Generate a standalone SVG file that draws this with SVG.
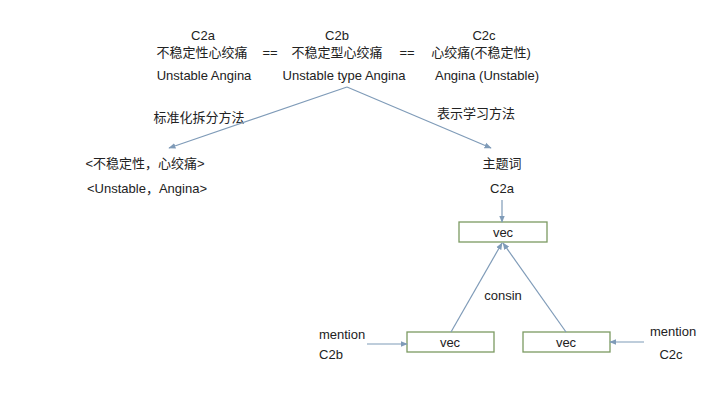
<svg xmlns="http://www.w3.org/2000/svg" width="720" height="405" viewBox="0 0 720 405">
<defs>
<style>
text{font-family:"Liberation Sans","Noto Sans CJK SC",sans-serif;font-size:13px;fill:#222;text-anchor:middle}
.box{fill:#fff;stroke:#7c9a62;stroke-width:1.3}
.ln{stroke:#7f9bb8;stroke-width:1.2;fill:none}
</style>
<marker id="ah" viewBox="0 0 10 10" refX="9" refY="5" markerWidth="6" markerHeight="6" orient="auto-start-reverse">
<path d="M0,1 L10,5 L0,9 Z" fill="#7f9bb8"/>
</marker>
</defs>
<rect width="720" height="405" fill="#fff"/>
<g id="terms">
<text x="203" y="40">C2a</text>
<text x="337" y="40">C2b</text>
<text x="484" y="40">C2c</text>
<text x="202" y="57">不稳定性心绞痛</text>
<text x="270" y="57">==</text>
<text x="337" y="57">不稳定型心绞痛</text>
<text x="407" y="57">==</text>
<text x="481" y="57">心绞痛(不稳定性)</text>
<text x="204" y="80">Unstable Angina</text>
<text x="344" y="80">Unstable type Angina</text>
<text x="487" y="80">Angina (Unstable)</text>
</g>
<g id="method-labels">
<text x="199" y="122">标准化拆分方法</text>
<text x="476" y="118">表示学习方法</text>
</g>
<g id="split-result">
<text x="145" y="168">&lt;不稳定性，心绞痛&gt;</text>
<text x="147" y="193">&lt;Unstable，Angina&gt;</text>
</g>
<g id="topic">
<text x="502" y="168">主题词</text>
<text x="502" y="193">C2a</text>
</g>
<g id="vec-top"><rect class="box" x="459" y="222" width="88" height="20"/><text x="503" y="237">vec</text></g>
<g id="vec-left"><rect class="box" x="407" y="332" width="87" height="20"/><text x="450" y="347">vec</text></g>
<g id="vec-right"><rect class="box" x="523" y="332" width="87" height="20"/><text x="566" y="347">vec</text></g>
<g id="mention-b"><text x="342" y="339">mention</text><text x="331" y="359">C2b</text></g>
<g id="mention-c"><text x="673" y="336">mention</text><text x="671" y="359">C2c</text></g>
<g id="consin"><text x="503" y="300">consin</text></g>
<g id="connectors">
<path class="ln" d="M347,87 L169,148" marker-end="url(#ah)"/>
<path class="ln" d="M347,87 L491,148" marker-end="url(#ah)"/>
<path class="ln" d="M502,200 L502,222" marker-end="url(#ah)"/>
<path class="ln" d="M451,332 L502,243" marker-end="url(#ah)"/>
<path class="ln" d="M566,332 L503,243" marker-end="url(#ah)"/>
<path class="ln" d="M367,344 L407,344" marker-end="url(#ah)"/>
<path class="ln" d="M644,342 L610,342" marker-end="url(#ah)"/>
</g>
</svg>
